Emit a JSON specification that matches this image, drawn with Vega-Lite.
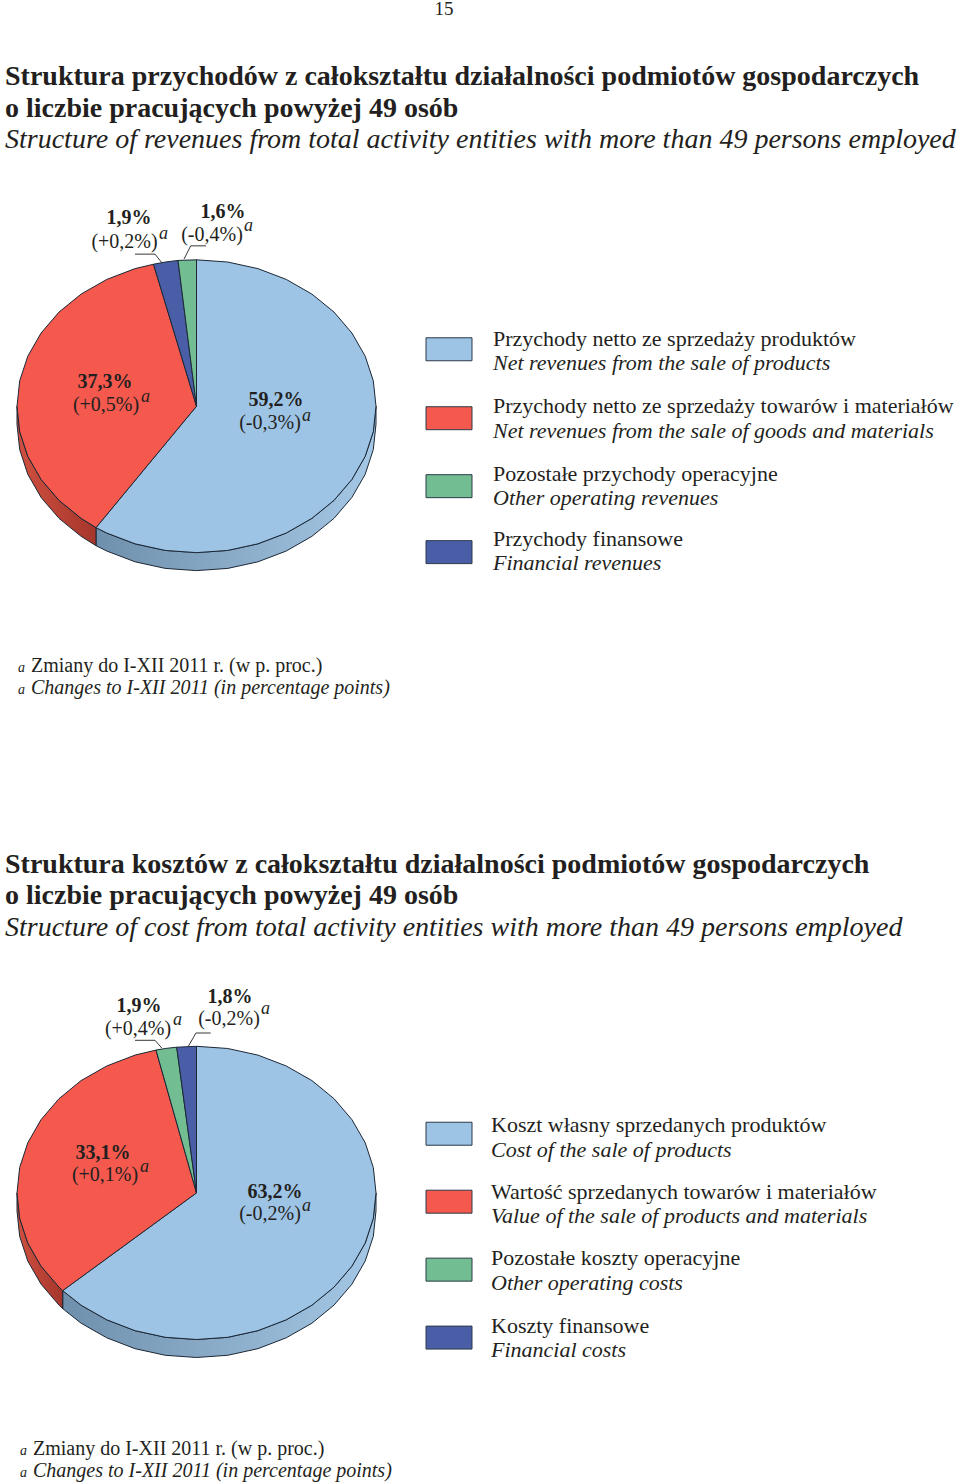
{
"$schema":"https://vega.github.io/schema/vega-lite/v6.json",
"width":960,"height":1484,"padding":0,"autosize":{"type":"fit","contains":"padding"},
"background":"white","view":{"stroke":null},
"config":{"text":{"font":"Liberation Serif","baseline":"alphabetic","color":"#231f20"}},
"datasets":{
"sides":[
{"chart":"revenues","series":"Main","x":376,"y":405.5},{"chart":"revenues","series":"Main","x":373.3,"y":430.9},{"chart":"revenues","series":"Main","x":365.2,"y":455.6},{"chart":"revenues","series":"Main","x":351.9,"y":478.75},{"chart":"revenues","series":"Main","x":334,"y":499.7},{"chart":"revenues","series":"Main","x":311.9,"y":517.7},{"chart":"revenues","series":"Main","x":286.25,"y":532.4},{"chart":"revenues","series":"Main","x":257.9,"y":543.2},{"chart":"revenues","series":"Main","x":227.7,"y":549.8},{"chart":"revenues","series":"Main","x":196.5,"y":552},{"chart":"revenues","series":"Main","x":165.3,"y":549.8},{"chart":"revenues","series":"Main","x":135.1,"y":543.2},{"chart":"revenues","series":"Main","x":106.75,"y":532.4},{"chart":"revenues","series":"Main","x":96,"y":527},
{"chart":"revenues","series":"Main","x":96,"y":545},{"chart":"revenues","series":"Main","x":106.75,"y":550.4},{"chart":"revenues","series":"Main","x":135.1,"y":561.2},{"chart":"revenues","series":"Main","x":165.3,"y":567.8},{"chart":"revenues","series":"Main","x":196.5,"y":570},{"chart":"revenues","series":"Main","x":227.7,"y":567.8},{"chart":"revenues","series":"Main","x":257.9,"y":561.2},{"chart":"revenues","series":"Main","x":286.25,"y":550.4},{"chart":"revenues","series":"Main","x":311.9,"y":535.7},{"chart":"revenues","series":"Main","x":334,"y":517.7},{"chart":"revenues","series":"Main","x":351.9,"y":496.75},{"chart":"revenues","series":"Main","x":365.2,"y":473.6},{"chart":"revenues","series":"Main","x":373.3,"y":448.9},{"chart":"revenues","series":"Main","x":376,"y":423.5},{"chart":"revenues","series":"Main","x":376,"y":405.5},
{"chart":"revenues","series":"Goods","x":96,"y":527},{"chart":"revenues","series":"Goods","x":81.1,"y":517.7},{"chart":"revenues","series":"Goods","x":59,"y":499.7},{"chart":"revenues","series":"Goods","x":41.1,"y":478.75},{"chart":"revenues","series":"Goods","x":27.8,"y":455.6},{"chart":"revenues","series":"Goods","x":19.7,"y":430.9},{"chart":"revenues","series":"Goods","x":17,"y":405.5},{"chart":"revenues","series":"Goods","x":17,"y":423.5},{"chart":"revenues","series":"Goods","x":19.7,"y":448.9},{"chart":"revenues","series":"Goods","x":27.8,"y":473.6},{"chart":"revenues","series":"Goods","x":41.1,"y":496.75},{"chart":"revenues","series":"Goods","x":59,"y":517.7},{"chart":"revenues","series":"Goods","x":81.1,"y":535.7},{"chart":"revenues","series":"Goods","x":96,"y":545},{"chart":"revenues","series":"Goods","x":96,"y":527},
{"chart":"costs","series":"Main","x":376,"y":1192.7},{"chart":"costs","series":"Main","x":373.3,"y":1218.2},{"chart":"costs","series":"Main","x":365.2,"y":1242.9},{"chart":"costs","series":"Main","x":351.9,"y":1266.05},{"chart":"costs","series":"Main","x":334,"y":1287},{"chart":"costs","series":"Main","x":311.9,"y":1305.1},{"chart":"costs","series":"Main","x":286.25,"y":1319.7},{"chart":"costs","series":"Main","x":257.9,"y":1330.6},{"chart":"costs","series":"Main","x":227.7,"y":1337.2},{"chart":"costs","series":"Main","x":196.5,"y":1339.4},{"chart":"costs","series":"Main","x":165.3,"y":1337.2},{"chart":"costs","series":"Main","x":135.1,"y":1330.6},{"chart":"costs","series":"Main","x":106.75,"y":1319.7},{"chart":"costs","series":"Main","x":81.1,"y":1305.1},{"chart":"costs","series":"Main","x":62.7,"y":1290.5},
{"chart":"costs","series":"Main","x":62.7,"y":1308.5},{"chart":"costs","series":"Main","x":81.1,"y":1323.1},{"chart":"costs","series":"Main","x":106.75,"y":1337.7},{"chart":"costs","series":"Main","x":135.1,"y":1348.6},{"chart":"costs","series":"Main","x":165.3,"y":1355.2},{"chart":"costs","series":"Main","x":196.5,"y":1357.4},{"chart":"costs","series":"Main","x":227.7,"y":1355.2},{"chart":"costs","series":"Main","x":257.9,"y":1348.6},{"chart":"costs","series":"Main","x":286.25,"y":1337.7},{"chart":"costs","series":"Main","x":311.9,"y":1323.1},{"chart":"costs","series":"Main","x":334,"y":1305},{"chart":"costs","series":"Main","x":351.9,"y":1284.05},{"chart":"costs","series":"Main","x":365.2,"y":1260.9},{"chart":"costs","series":"Main","x":373.3,"y":1236.2},{"chart":"costs","series":"Main","x":376,"y":1210.7},{"chart":"costs","series":"Main","x":376,"y":1192.7},
{"chart":"costs","series":"Goods","x":62.7,"y":1290.5},{"chart":"costs","series":"Goods","x":59,"y":1287},{"chart":"costs","series":"Goods","x":41.1,"y":1266.05},{"chart":"costs","series":"Goods","x":27.8,"y":1242.9},{"chart":"costs","series":"Goods","x":19.7,"y":1218.2},{"chart":"costs","series":"Goods","x":17,"y":1192.7},{"chart":"costs","series":"Goods","x":17,"y":1210.7},{"chart":"costs","series":"Goods","x":19.7,"y":1236.2},{"chart":"costs","series":"Goods","x":27.8,"y":1260.9},{"chart":"costs","series":"Goods","x":41.1,"y":1284.05},{"chart":"costs","series":"Goods","x":59,"y":1305},{"chart":"costs","series":"Goods","x":62.7,"y":1308.5},{"chart":"costs","series":"Goods","x":62.7,"y":1290.5}
],
"wedges":[
{"chart":"revenues","series":"Main","share":59.2,"x":196.5,"y":405.5},{"chart":"revenues","series":"Main","x":196.5,"y":259},{"chart":"revenues","series":"Main","x":227.7,"y":261.2},{"chart":"revenues","series":"Main","x":257.9,"y":267.8},{"chart":"revenues","series":"Main","x":286.25,"y":278.6},{"chart":"revenues","series":"Main","x":311.9,"y":293.3},{"chart":"revenues","series":"Main","x":334,"y":311.3},{"chart":"revenues","series":"Main","x":351.9,"y":332.25},{"chart":"revenues","series":"Main","x":365.2,"y":355.4},{"chart":"revenues","series":"Main","x":373.3,"y":380.1},{"chart":"revenues","series":"Main","x":376,"y":405.5},{"chart":"revenues","series":"Main","x":373.3,"y":430.9},{"chart":"revenues","series":"Main","x":365.2,"y":455.6},{"chart":"revenues","series":"Main","x":351.9,"y":478.75},{"chart":"revenues","series":"Main","x":334,"y":499.7},{"chart":"revenues","series":"Main","x":311.9,"y":517.7},{"chart":"revenues","series":"Main","x":286.25,"y":532.4},{"chart":"revenues","series":"Main","x":257.9,"y":543.2},{"chart":"revenues","series":"Main","x":227.7,"y":549.8},{"chart":"revenues","series":"Main","x":196.5,"y":552},{"chart":"revenues","series":"Main","x":165.3,"y":549.8},{"chart":"revenues","series":"Main","x":135.1,"y":543.2},{"chart":"revenues","series":"Main","x":106.75,"y":532.4},{"chart":"revenues","series":"Main","x":96,"y":527},{"chart":"revenues","series":"Main","x":196.5,"y":405.5},
{"chart":"revenues","series":"Goods","share":37.3,"x":196.5,"y":405.5},{"chart":"revenues","series":"Goods","x":96,"y":527},{"chart":"revenues","series":"Goods","x":81.1,"y":517.7},{"chart":"revenues","series":"Goods","x":59,"y":499.7},{"chart":"revenues","series":"Goods","x":41.1,"y":478.75},{"chart":"revenues","series":"Goods","x":27.8,"y":455.6},{"chart":"revenues","series":"Goods","x":19.7,"y":430.9},{"chart":"revenues","series":"Goods","x":17,"y":405.5},{"chart":"revenues","series":"Goods","x":19.7,"y":380.1},{"chart":"revenues","series":"Goods","x":27.8,"y":355.4},{"chart":"revenues","series":"Goods","x":41.1,"y":332.25},{"chart":"revenues","series":"Goods","x":59,"y":311.3},{"chart":"revenues","series":"Goods","x":81.1,"y":293.3},{"chart":"revenues","series":"Goods","x":106.75,"y":278.6},{"chart":"revenues","series":"Goods","x":135.1,"y":267.8},{"chart":"revenues","series":"Goods","x":153.5,"y":263.4},{"chart":"revenues","series":"Goods","x":196.5,"y":405.5},
{"chart":"revenues","series":"Financial","share":1.9,"x":196.5,"y":405.5},{"chart":"revenues","series":"Financial","x":153.5,"y":263.4},{"chart":"revenues","series":"Financial","x":165.3,"y":261.2},{"chart":"revenues","series":"Financial","x":178,"y":259.6},{"chart":"revenues","series":"Financial","x":196.5,"y":405.5},
{"chart":"revenues","series":"Other","share":1.6,"x":196.5,"y":405.5},{"chart":"revenues","series":"Other","x":178,"y":259.6},{"chart":"revenues","series":"Other","x":196.5,"y":259},{"chart":"revenues","series":"Other","x":196.5,"y":405.5},
{"chart":"costs","series":"Main","share":63.2,"x":196.5,"y":1192.7},{"chart":"costs","series":"Main","x":196.5,"y":1046},{"chart":"costs","series":"Main","x":227.7,"y":1048.2},{"chart":"costs","series":"Main","x":257.9,"y":1054.8},{"chart":"costs","series":"Main","x":286.25,"y":1065.7},{"chart":"costs","series":"Main","x":311.9,"y":1080.3},{"chart":"costs","series":"Main","x":334,"y":1098.4},{"chart":"costs","series":"Main","x":351.9,"y":1119.35},{"chart":"costs","series":"Main","x":365.2,"y":1142.5},{"chart":"costs","series":"Main","x":373.3,"y":1167.2},{"chart":"costs","series":"Main","x":376,"y":1192.7},{"chart":"costs","series":"Main","x":373.3,"y":1218.2},{"chart":"costs","series":"Main","x":365.2,"y":1242.9},{"chart":"costs","series":"Main","x":351.9,"y":1266.05},{"chart":"costs","series":"Main","x":334,"y":1287},{"chart":"costs","series":"Main","x":311.9,"y":1305.1},{"chart":"costs","series":"Main","x":286.25,"y":1319.7},{"chart":"costs","series":"Main","x":257.9,"y":1330.6},{"chart":"costs","series":"Main","x":227.7,"y":1337.2},{"chart":"costs","series":"Main","x":196.5,"y":1339.4},{"chart":"costs","series":"Main","x":165.3,"y":1337.2},{"chart":"costs","series":"Main","x":135.1,"y":1330.6},{"chart":"costs","series":"Main","x":106.75,"y":1319.7},{"chart":"costs","series":"Main","x":81.1,"y":1305.1},{"chart":"costs","series":"Main","x":62.7,"y":1290.5},{"chart":"costs","series":"Main","x":196.5,"y":1192.7},
{"chart":"costs","series":"Goods","share":33.1,"x":196.5,"y":1192.7},{"chart":"costs","series":"Goods","x":62.7,"y":1290.5},{"chart":"costs","series":"Goods","x":59,"y":1287},{"chart":"costs","series":"Goods","x":41.1,"y":1266.05},{"chart":"costs","series":"Goods","x":27.8,"y":1242.9},{"chart":"costs","series":"Goods","x":19.7,"y":1218.2},{"chart":"costs","series":"Goods","x":17,"y":1192.7},{"chart":"costs","series":"Goods","x":19.7,"y":1167.2},{"chart":"costs","series":"Goods","x":27.8,"y":1142.5},{"chart":"costs","series":"Goods","x":41.1,"y":1119.35},{"chart":"costs","series":"Goods","x":59,"y":1098.4},{"chart":"costs","series":"Goods","x":81.1,"y":1080.3},{"chart":"costs","series":"Goods","x":106.75,"y":1065.7},{"chart":"costs","series":"Goods","x":135.1,"y":1054.8},{"chart":"costs","series":"Goods","x":156,"y":1049.8},{"chart":"costs","series":"Goods","x":196.5,"y":1192.7},
{"chart":"costs","series":"Other","share":1.9,"x":196.5,"y":1192.7},{"chart":"costs","series":"Other","x":156,"y":1049.8},{"chart":"costs","series":"Other","x":165.3,"y":1048.2},{"chart":"costs","series":"Other","x":176.7,"y":1046.9},{"chart":"costs","series":"Other","x":196.5,"y":1192.7},
{"chart":"costs","series":"Financial","share":1.8,"x":196.5,"y":1192.7},{"chart":"costs","series":"Financial","x":176.7,"y":1046.9},{"chart":"costs","series":"Financial","x":196.5,"y":1046},{"chart":"costs","series":"Financial","x":196.5,"y":1192.7}
],
"leaders":[
{"id":"r1","x":135,"y":253.3},{"id":"r1","x":155,"y":253.3},{"id":"r1","x":161.7,"y":261.7},
{"id":"r2","x":206,"y":245},{"id":"r2","x":190.7,"y":245},{"id":"r2","x":184,"y":258.3},
{"id":"c1","x":135,"y":1040},{"id":"c1","x":155,"y":1040},{"id":"c1","x":161.7,"y":1047.7},
{"id":"c2","x":210.7,"y":1032.7},{"id":"c2","x":196,"y":1032.7},{"id":"c2","x":188.3,"y":1046}
],
"swatches":[
{"series":"Main","x":426,"x2":472,"y":337,"y2":360},{"series":"Goods","x":426,"x2":472,"y":406,"y2":429},{"series":"Other","x":426,"x2":472,"y":474,"y2":497},{"series":"Financial","x":426,"x2":472,"y":540,"y2":563},
{"series":"Main","x":426,"x2":472,"y":1122,"y2":1145},{"series":"Goods","x":426,"x2":472,"y":1190,"y2":1213},{"series":"Other","x":426,"x2":472,"y":1258,"y2":1281},{"series":"Financial","x":426,"x2":472,"y":1326,"y2":1349}
]
},
"encoding":{
"x":{"field":"x","type":"quantitative","scale":{"domain":[0,960],"nice":false},"axis":null},
"y":{"field":"y","type":"quantitative","scale":{"domain":[1484,0],"nice":false},"axis":null}
},
"layer":[
{"data":{"name":"sides"},"transform":[{"filter":"datum.series==='Main'"},{"window":[{"op":"row_number","as":"seq"}]}],
 "mark":{"type":"line","strokeWidth":1,"stroke":"#1b2735","strokeJoin":"round","fill":{"gradient":"linear","x1":0,"x2":1,"y1":0,"y2":0,"stops":[{"offset":0,"color":"#6f90ac"},{"offset":1,"color":"#a5c8e6"}]}},
 "encoding":{"detail":{"field":"chart"},"order":{"field":"seq","type":"quantitative"}}},
{"data":{"name":"sides"},"transform":[{"filter":"datum.series==='Goods'"},{"window":[{"op":"row_number","as":"seq"}]}],
 "mark":{"type":"line","strokeWidth":1,"stroke":"#1b2735","strokeJoin":"round","fill":{"gradient":"linear","x1":0,"x2":1,"y1":0,"y2":0,"stops":[{"offset":0,"color":"#d0503f"},{"offset":1,"color":"#a5362c"}]}},
 "encoding":{"detail":{"field":"chart"},"order":{"field":"seq","type":"quantitative"}}},
{"data":{"name":"wedges"},"transform":[{"window":[{"op":"row_number","as":"seq"}]}],
 "mark":{"type":"line","strokeWidth":1,"stroke":"#1b2735","strokeJoin":"round"},
 "encoding":{"fill":{"field":"series","type":"nominal","legend":null,"scale":{"domain":["Main","Goods","Other","Financial"],"range":["#9dc3e5","#f5594e","#72bd92","#4a5ea8"]}},"detail":{"field":"chart"},"order":{"field":"seq","type":"quantitative"}}},
{"data":{"name":"leaders"},"transform":[{"window":[{"op":"row_number","as":"seq"}]}],"mark":{"type":"line","strokeWidth":0.9,"stroke":"#231f20"},"encoding":{"detail":{"field":"id"},"order":{"field":"seq","type":"quantitative"}}},
{"data":{"name":"swatches"},"mark":{"type":"rect","stroke":"#2c3a48","strokeWidth":1},
 "encoding":{"x2":{"field":"x2"},"y2":{"field":"y2"},"fill":{"field":"series","type":"nominal","legend":null,"scale":{"domain":["Main","Goods","Other","Financial"],"range":["#9dc3e5","#f5594e","#72bd92","#4a5ea8"]}}}},
{"data":{"values":[{"t":"15","x":444,"y":14}]},"mark":{"type":"text","fontSize":19,"align":"center"},"encoding":{"text":{"field":"t"}}},
{"data":{"values":[
{"t":"Struktura przychodów z całokształtu działalności podmiotów gospodarczych","x":5,"y":84},
{"t":"o liczbie pracujących powyżej 49 osób","x":5,"y":116},
{"t":"Struktura kosztów z całokształtu działalności podmiotów gospodarczych","x":5,"y":873},
{"t":"o liczbie pracujących powyżej 49 osób","x":5,"y":904}
]},"mark":{"type":"text","fontSize":28,"fontWeight":"bold","align":"left"},"encoding":{"text":{"field":"t"}}},
{"data":{"values":[
{"t":"Structure of revenues from total activity entities with more than 49 persons employed","x":5,"y":147},
{"t":"Structure of cost from total activity entities with more than 49 persons employed","x":5,"y":936}
]},"mark":{"type":"text","fontSize":28,"fontStyle":"italic","align":"left"},"encoding":{"text":{"field":"t"}}},
{"data":{"values":[
{"t":"1,9%","x":129,"y":223},{"t":"1,6%","x":223,"y":217.5},{"t":"37,3%","x":105,"y":387.5},{"t":"59,2%","x":276,"y":405},
{"t":"1,9%","x":139,"y":1012},{"t":"1,8%","x":230,"y":1003},{"t":"33,1%","x":103,"y":1158.5},{"t":"63,2%","x":275,"y":1197.5}
]},"mark":{"type":"text","fontSize":20,"fontWeight":"bold","align":"center"},"encoding":{"text":{"field":"t"}}},
{"data":{"values":[
{"t":"(+0,2%)","x":124.5,"y":247.5},{"t":"(-0,4%)","x":212,"y":240},{"t":"(+0,5%)","x":106,"y":410.5},{"t":"(-0,3%)","x":270,"y":428.5},
{"t":"(+0,4%)","x":138,"y":1035},{"t":"(-0,2%)","x":229,"y":1024.5},{"t":"(+0,1%)","x":105,"y":1180.5},{"t":"(-0,2%)","x":270,"y":1219.5}
]},"mark":{"type":"text","fontSize":20,"align":"center"},"encoding":{"text":{"field":"t"}}},
{"data":{"values":[
{"t":"a","x":159,"y":238},{"t":"a","x":244,"y":230},{"t":"a","x":141,"y":401},{"t":"a","x":302,"y":420},
{"t":"a","x":173,"y":1025},{"t":"a","x":261,"y":1014},{"t":"a","x":140,"y":1172},{"t":"a","x":302,"y":1211}
]},"mark":{"type":"text","fontSize":18,"fontStyle":"italic","align":"left"},"encoding":{"text":{"field":"t"}}},
{"data":{"values":[
{"t":"Przychody netto ze sprzedaży produktów","x":493,"y":345},
{"t":"Przychody netto ze sprzedaży towarów i materiałów","x":493,"y":412},
{"t":"Pozostałe przychody operacyjne","x":493,"y":480},
{"t":"Przychody finansowe","x":493,"y":545},
{"t":"Koszt własny sprzedanych produktów","x":491,"y":1131.5},
{"t":"Wartość sprzedanych towarów i materiałów","x":491,"y":1198.5},
{"t":"Pozostałe koszty operacyjne","x":491,"y":1265},
{"t":"Koszty finansowe","x":491,"y":1332.5}
]},"mark":{"type":"text","fontSize":22,"align":"left"},"encoding":{"text":{"field":"t"}}},
{"data":{"values":[
{"t":"Net revenues from the sale of products","x":493,"y":369.5},
{"t":"Net revenues from the sale of goods and materials","x":493,"y":437},
{"t":"Other operating revenues","x":493,"y":504.5},
{"t":"Financial revenues","x":493,"y":569.5},
{"t":"Cost of the sale of products","x":491,"y":1156.5},
{"t":"Value of the sale of products and materials","x":491,"y":1223},
{"t":"Other operating costs","x":491,"y":1290},
{"t":"Financial costs","x":491,"y":1357}
]},"mark":{"type":"text","fontSize":22,"fontStyle":"italic","align":"left"},"encoding":{"text":{"field":"t"}}},
{"data":{"values":[
{"t":"Zmiany do I-XII 2011 r. (w p. proc.)","x":31,"y":671},
{"t":"Zmiany do I-XII 2011 r. (w p. proc.)","x":33,"y":1454.5}
]},"mark":{"type":"text","fontSize":20,"align":"left"},"encoding":{"text":{"field":"t"}}},
{"data":{"values":[
{"t":"Changes to I-XII 2011 (in percentage points)","x":31,"y":693},
{"t":"Changes to I-XII 2011 (in percentage points)","x":33,"y":1477}
]},"mark":{"type":"text","fontSize":20,"fontStyle":"italic","align":"left"},"encoding":{"text":{"field":"t"}}},
{"data":{"values":[
{"t":"a","x":18,"y":671},{"t":"a","x":18,"y":693},{"t":"a","x":20,"y":1454.5},{"t":"a","x":20,"y":1477}
]},"mark":{"type":"text","fontSize":14,"fontStyle":"italic","align":"left"},"encoding":{"text":{"field":"t"}}}
]
}
